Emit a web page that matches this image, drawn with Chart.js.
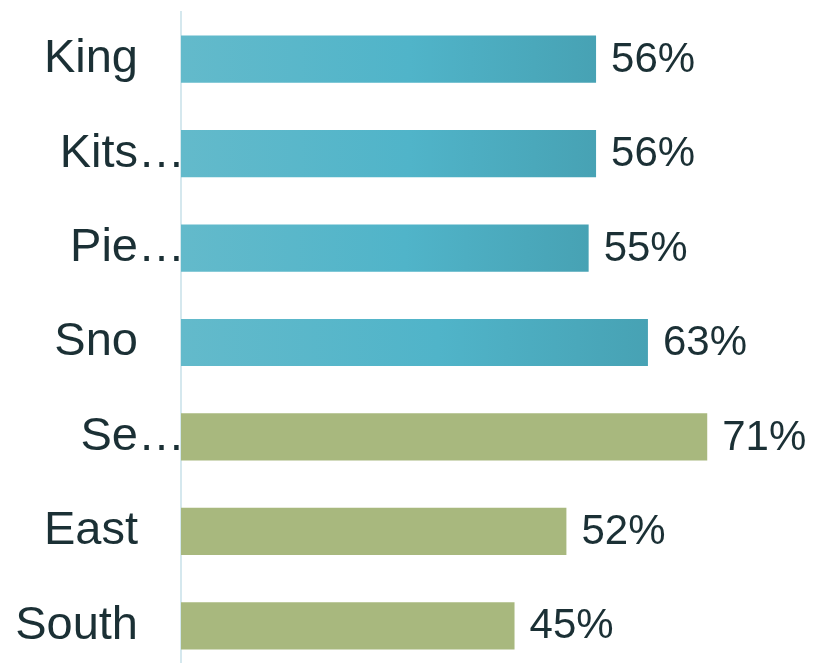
<!DOCTYPE html>
<html>
<head>
<meta charset="utf-8">
<script src="https://cdn.jsdelivr.net/npm/chart.js@4"></script>
<style>
  html, body { margin: 0; padding: 0; background: #fff; overflow: hidden; }
  #wrap { width: 825px; height: 673px; position: relative; }
</style>
</head>
<body>
<div id="wrap"><canvas id="chartRegions"></canvas></div>
<script>
// regions, as shown (long names are cut off in the original)
var categories = ["King", "Kits\u2026", "Pie\u2026", "Sno", "Se\u2026", "East", "South"];
var values = [56, 56, 55, 63, 71, 52, 45];
var groups = ["blue", "blue", "blue", "blue", "green", "green", "green"];

var textColor = '#1b3035';
var green = '#a8b87e';

function barColor(ctx) {
    var i = ctx.dataIndex;
    if (groups[i] == "green") return green;
    var chart = ctx.chart;
    if (!chart.chartArea) return '#52b4c9';
    var x = chart.scales.x;
    var x0 = x.getPixelForValue(0);
    var x1 = x.getPixelForValue(values[i]);
    var g = chart.ctx.createLinearGradient(x0, 0, x1, 0);
    g.addColorStop(0, '#63bacb');
    g.addColorStop(0.55, '#50b4c9');
    g.addColorStop(1, '#47a2b4');
    return g;
}

// value labels at the end of each bar
var valueLabels = {
    id: 'valueLabels',
    afterDatasetsDraw: function(chart) {
        var ctx = chart.ctx;
        var meta = chart.getDatasetMeta(0);
        ctx.save();
        ctx.font = '42px "Liberation Sans", Arial, sans-serif';
        ctx.fillStyle = textColor;
        ctx.textAlign = 'left';
        ctx.textBaseline = 'middle';
        meta.data.forEach(function(bar, i) {
            ctx.fillText(values[i] + '%', bar.x + 15, bar.y + 1);
        });
        ctx.restore();
    }
};

var chartRegions = new Chart(document.getElementById("chartRegions"), {
    type: 'bar',
    data: {
        labels: categories,
        datasets: [{
            data: values,
            backgroundColor: barColor,
            borderWidth: 0,
            categoryPercentage: 1.0,
            barPercentage: 0.5
        }]
    },
    options: {
        indexAxis: 'y',
        responsive: true,
        maintainAspectRatio: false,
        animation: false,
        layout: {
            padding: { top: 12, right: 14, bottom: 0, left: 0 }
        },
        plugins: {
            legend: { display: false },
            tooltip: { enabled: false }
        },
        scales: {
            x: {
                display: false,
                min: 0,
                max: 85
            },
            y: {
                afterFit: function(scale) {
                    scale.width = 181;
                    scale.paddingTop = 0;
                    scale.paddingBottom = 0;
                },
                grid: { display: false, drawTicks: false },
                border: { display: true, color: '#d5e8ee', width: 2 },
                ticks: {
                    padding: -4,
                    color: textColor,
                    font: { family: '"Liberation Sans", Arial, sans-serif', size: 47 },
                    callback: function(v, i) {
                        var s = categories[i];
                        // full names sit a bit further left than the cut ones
                        return s.endsWith('\u2026') ? s : s + '\u2003';
                    }
                }
            }
        }
    },
    plugins: [valueLabels]
});
</script>
</body>
</html>
